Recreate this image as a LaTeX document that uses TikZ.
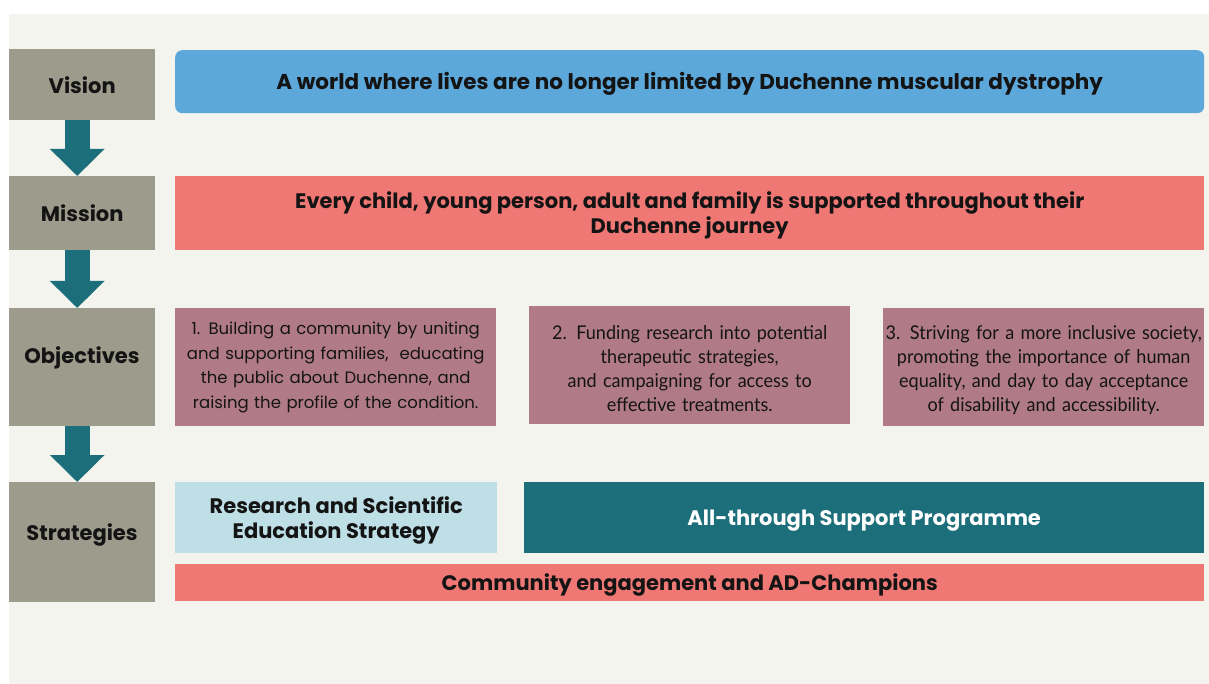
\documentclass[tikz,border=0pt]{standalone}
\usepackage{fontspec}
\setmainfont{Poppins}
\newfontfamily\narrowfont{Lato}[FakeStretch=0.95]
\usepackage{xcolor}
\usetikzlibrary{arrows.meta, positioning}

\definecolor{panel}{HTML}{F3F4EE}
\definecolor{tagcol}{HTML}{9C9B8C}
\definecolor{skyblue}{HTML}{5DA8DA}
\definecolor{salmon}{HTML}{F07874}
\definecolor{mauve}{HTML}{B07B87}
\definecolor{petrol}{HTML}{1C6E7A}
\definecolor{paleblue}{HTML}{BEDFE6}
\definecolor{ink}{HTML}{141414}

\begin{document}
\begin{tikzpicture}[
  x=1pt, y=-1pt,
  text=ink,
  head/.style={font=\bfseries\fontsize{21}{25}\selectfont},
  tag/.style={fill=tagcol, anchor=north west, minimum width=146pt,
              inner sep=0pt, head},
  band/.style={anchor=north west, inner sep=0pt, align=center, head},
  oneline/.style={text height=21pt},
  twoline/.style={text height=47pt},
  obj/.style={fill=mauve, anchor=north west, inner sep=0pt, align=center,
              minimum height=118pt, text width=321pt},
  arr/.style={-{Triangle[length=27pt, width=53pt]}, line width=25pt, petrol}
]
\useasboundingbox (0,0) rectangle (1209,684);
\fill[white] (0,0) rectangle (1209,684);
\fill[panel] (9,14) rectangle (1209,684);

% left column
\node[tag, minimum height=71pt] (vis) at (9,49) {Vision};
\node[tag, minimum height=74pt] (mis) at (9,176) {Mission};
\node[tag, minimum height=118pt] (objs) at (9,308) {};
\node[head] (objstxt) at (82,358) {Objectives};
\node[tag, minimum height=120pt] (strs) at (9,482) {};
\node[head] (strstxt) at (82,535) {Strategies};

\draw[arr] ([xshift=-5pt]vis.south) -- ([xshift=-5pt]mis.north);
\draw[arr] ([xshift=-5pt]mis.south) -- ([xshift=-5pt]objs.north);
\draw[arr] ([xshift=-5pt]objs.south) -- ([xshift=-5pt]strs.north);

% vision and mission
\node[band, oneline, fill=skyblue, rounded corners=7pt, minimum width=1029pt,
      minimum height=63pt, font=\bfseries\fontsize{21.5}{25}\selectfont]
  (visbox) at (175,50)
  {A world where lives are no longer limited by Duchenne muscular dystrophy};
\node[band, twoline, fill=salmon, minimum width=1029pt, minimum height=74pt]
  (misbox) at (175,176)
  {Every child, young person, adult and family is supported throughout their\\
  Duchenne journey};

% objectives
\node[obj, font=\fontsize{16.5}{24.5}\selectfont] (obj1) at (175,308)
  {1. Building a community by uniting\\ and supporting families,~ educating\\
   the public about Duchenne, and\\ raising the profile of the condition.};
\node[obj, font=\narrowfont\fontsize{19}{24}\selectfont, text height=20pt]
  (obj2) at (529,306)
  {2. Funding research into potential\\ therapeutic strategies,\\
   and campaigning for access to\\ effective treatments.};
\node[obj, font=\narrowfont\fontsize{19}{24}\selectfont, text height=20pt]
  (obj3) at (883,308)
  {3. Striving for a more inclusive society,\\ promoting the importance of human\\
   equality, and day to day acceptance\\ of disability and accessibility.};

% strategies
\node[band, twoline, fill=paleblue, minimum width=322pt, minimum height=71pt]
  (rse) at (175,482) {Research and Scientific\\ Education Strategy};
\node[band, oneline, fill=petrol, text=white, minimum width=680pt,
      minimum height=71pt] (ats) at (524,482) {All-through Support Programme};
\node[band, oneline, fill=salmon, minimum width=1029pt, minimum height=37pt]
  (comm) at (175,564) {Community engagement and AD-Champions};
\end{tikzpicture}
\end{document}
